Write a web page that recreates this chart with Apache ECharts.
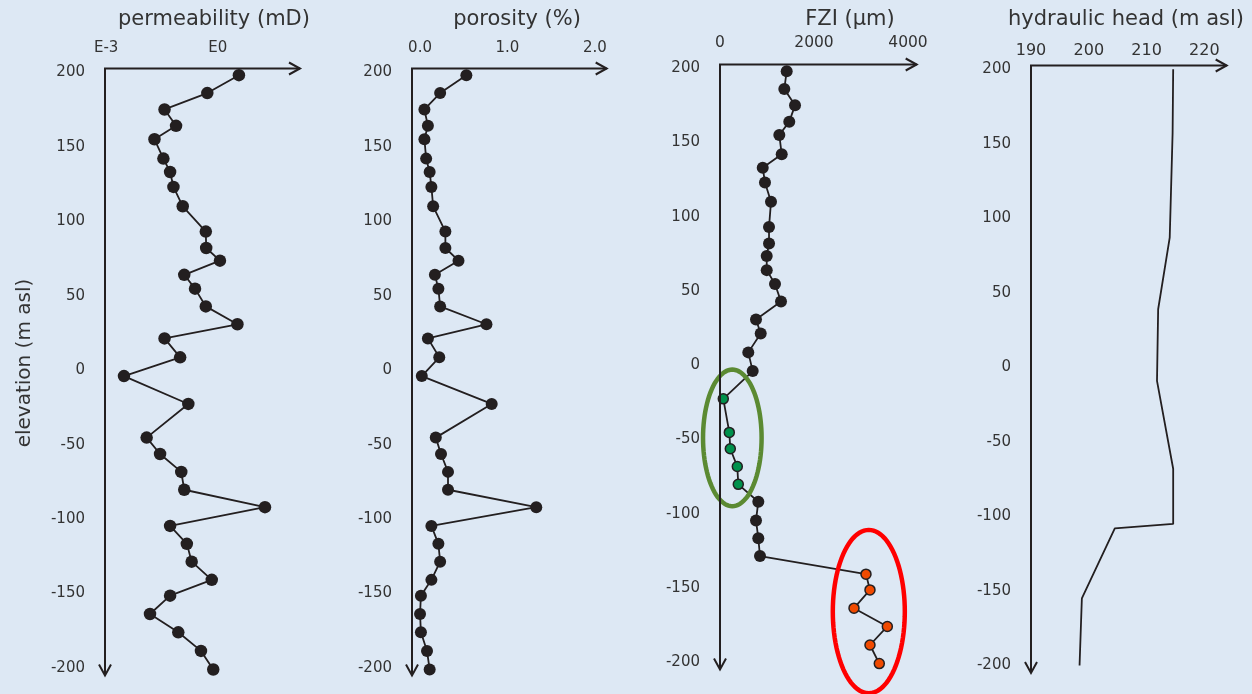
<!DOCTYPE html>
<html><head><meta charset="utf-8">
<script src="https://cdn.jsdelivr.net/npm/echarts@6/dist/echarts.min.js"></script>
<style>html,body{margin:0;padding:0;background:#dde8f4}#c{width:1252px;height:694px}</style>
</head><body><div id="c"></div>
<script>
// ---------- data ----------
const elevation = [198,186,175,164,155,142,133,123,110,93,82,73.5,64,54.7,42.8,30.8,21.3,8.6,-4,-22.7,-45.3,-56.3,-68.3,-80.3,-92,-104.6,-116.6,-128.6,-140.8,-151.4,-163.7,-176,-188.5,-201];
// permeability as log10(mD)
const permLog = [0.57,-0.28,-1.43,-1.12,-1.70,-1.46,-1.28,-1.19,-0.94,-0.32,-0.31,0.06,-0.90,-0.61,-0.32,0.53,-1.43,-1.01,-2.52,-0.79,-1.91,-1.55,-0.98,-0.90,1.27,-1.28,-0.83,-0.70,-0.16,-1.28,-1.82,-1.06,-0.45,-0.12];
const porosity = [0.53,0.23,0.05,0.09,0.05,0.07,0.11,0.13,0.15,0.29,0.29,0.44,0.17,0.21,0.23,0.76,0.09,0.22,0.02,0.82,0.18,0.24,0.32,0.32,1.33,0.13,0.21,0.23,0.13,0.01,0.0,0.01,0.08,0.11];
const fzi = [1419,1368,1596,1474,1262,1313,909,957,1085,1043,1043,994,994,1170,1298,766,866,602,696,70,198,219,368,389,815,766,815,851,3106,3191,2851,3560,3191,3389];
const fziGroup = ['b','b','b','b','b','b','b','b','b','b','b','b','b','b','b','b','b','b','b','g','g','g','g','g','b','b','b','b','r','r','r','r','r','r'];
const headElev = [200,157,87,39,-9,-68,-105,-108,-155,-200];
const head = [214.6,214.5,214.0,212.0,211.8,214.6,214.6,204.5,198.8,198.4];
const elevTicks = [-200,-150,-100,-50,0,50,100,150,200];
const permTicks = [-3,0];
const porTicks = [0,1,2];
const fziTicks = [0,2000,4000];
const headTicks = [190,200,210,220];
const titles = ['permeability (mD)','porosity (%)','FZI (μm)','hydraulic head (m asl)'];
const yTitle = 'elevation (m asl)';
// annotation ellipses (data units): [fzi centre, elev centre, fzi radius, elev radius]
const greenEllipse = [262,-49,623,46];
const redEllipse = [3166,-166,766,55];

// ---------- styles / layout ----------
const FONT = 'DejaVu Sans';
const INK = '#231f20';
const TXT = '#333333';
const groupStyle = {
  b:{color:INK, size:12, border:0},
  g:{color:'#00914c', size:10, border:1.5},
  r:{color:'#f04a00', size:10, border:1.5}
};
const panels = [
  {left:105, top:68.5, width:195, height:607, xmin:-3.03, xmax:2.212, ticks:permTicks, fmt:v=>'E'+Math.round(v), xm:13, tx:214, fs:15},
  {left:412, top:68.5, width:194.7, height:607, xmin:-0.092, xmax:2.136, ticks:porTicks, fmt:v=>v.toFixed(1), xm:13, tx:517, fs:15},
  {left:720, top:64.5, width:196.7, height:605, xmin:0, xmax:4185, ticks:fziTicks, fmt:v=>String(v), xm:14, tx:850, fs:15.5},
  {left:1031, top:65.5, width:195.7, height:607.5, xmin:190, xmax:223.86, ticks:headTicks, fmt:v=>String(v), xm:7, tx:1126, fs:16}
];
const YMIN = -205, YMAX = 202.5;

const chart = echarts.init(document.getElementById('c'));
const grid = panels.map(p=>({left:p.left, top:p.top, width:p.width, height:p.height, containLabel:false, outerBoundsMode:'none'}));
const xAxis = panels.map((p,i)=>({
  type:'value', gridIndex:i, position:'top', min:p.xmin, max:p.xmax,
  axisLine:{show:false}, axisTick:{show:false}, splitLine:{show:false},
  axisLabel:{customValues:p.ticks, formatter:p.fmt, margin:p.xm, color:TXT, fontFamily:FONT, fontSize:p.fs, showMinLabel:true, showMaxLabel:true}
}));
const yAxis = panels.map((p,i)=>({
  type:'value', gridIndex:i, min:YMIN, max:YMAX,
  axisLine:{show:false}, axisTick:{show:false}, splitLine:{show:false},
  axisLabel:{customValues:elevTicks, margin:20, color:TXT, fontFamily:FONT, fontSize:15}
}));
const lineBase = {type:'line', animation:false, lineStyle:{color:INK, width:1.8}, itemStyle:{color:INK}, symbol:'circle', z:3};
const series = [
  Object.assign({}, lineBase, {xAxisIndex:0, yAxisIndex:0, symbolSize:12.5, data:elevation.map((e,i)=>[permLog[i], e])}),
  Object.assign({}, lineBase, {xAxisIndex:1, yAxisIndex:1, symbolSize:12, data:elevation.map((e,i)=>[porosity[i], e])}),
  Object.assign({}, lineBase, {xAxisIndex:2, yAxisIndex:2, data:elevation.map((e,i)=>{
    const g = groupStyle[fziGroup[i]];
    return {value:[fzi[i], e], symbolSize:g.size, itemStyle:{color:g.color, borderColor:INK, borderWidth:g.border}};
  })}),
  Object.assign({}, lineBase, {xAxisIndex:3, yAxisIndex:3, symbol:'none', data:headElev.map((e,i)=>[head[i], e])})
];
chart.setOption({backgroundColor:'#dde8f4', animation:false, grid, xAxis, yAxis, series});

// ---------- axes with open arrows, titles, ellipses ----------
const graphic = [];
panels.forEach((p,i)=>{
  const c = chart.convertToPixel({gridIndex:i}, [p.xmin, YMAX]);
  const r = chart.convertToPixel({gridIndex:i}, [p.xmax, YMAX]);
  const b = chart.convertToPixel({gridIndex:i}, [p.xmin, YMIN]);
  const ls = {stroke:INK, lineWidth:2, fill:null};
  graphic.push({type:'polyline', shape:{points:[r,c,b]}, style:ls, z:100});
  graphic.push({type:'polyline', shape:{points:[[r[0]-11,r[1]-6],r,[r[0]-11,r[1]+6]]}, style:ls, z:100});
  graphic.push({type:'polyline', shape:{points:[[b[0]-6,b[1]-11],b,[b[0]+6,b[1]-11]]}, style:ls, z:100});
  graphic.push({type:'text', x:p.tx, y:20, style:{text:titles[i], fill:TXT, font:'21px "DejaVu Sans"', textAlign:'center', textVerticalAlign:'middle', verticalAlign:'middle'}, z:100});
});
graphic.push({type:'text', x:25, y:363, rotation:Math.PI/2, style:{text:yTitle, fill:TXT, font:'20px "DejaVu Sans"', textAlign:'center', textVerticalAlign:'middle', verticalAlign:'middle'}, z:100});
function ellipse(e, color){
  const c = chart.convertToPixel({gridIndex:2}, [e[0], e[1]]);
  const ex = chart.convertToPixel({gridIndex:2}, [e[0]+e[2], e[1]]);
  const ey = chart.convertToPixel({gridIndex:2}, [e[0], e[1]+e[3]]);
  const rx = Math.abs(ex[0]-c[0]), ry = Math.abs(ey[1]-c[1]);
  const pts = [];
  for (let k=0;k<96;k++){ const t = k/96*Math.PI*2; pts.push([c[0]+rx*Math.cos(t), c[1]+ry*Math.sin(t)]); }
  graphic.push({type:'polygon', shape:{points:pts}, style:{stroke:color, lineWidth:4.5, fill:null}, z:90});
}
ellipse(greenEllipse, '#5b8a32');
ellipse(redEllipse, '#ff0000');
chart.setOption({graphic});
</script>
</body></html>
